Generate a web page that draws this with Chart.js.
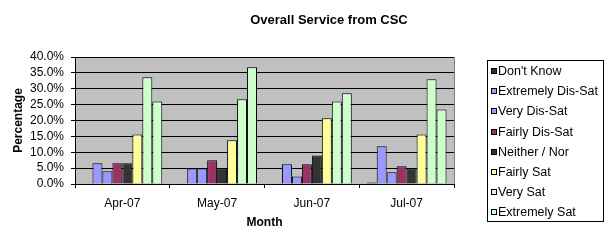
<!DOCTYPE html>
<html>
<head>
<meta charset="utf-8">
<script src="https://cdn.jsdelivr.net/npm/chart.js@4"></script>
<style>
  body { margin: 0; background: #fff; }
</style>
</head>
<body>
<canvas id="myChart" width="607" height="243"></canvas>
<script>
const months = ['Apr-07', 'May-07', 'Jun-07', 'Jul-07']
const seriesNames = ["Don't Know", 'Extremely Dis-Sat', 'Very Dis-Sat', 'Fairly Dis-Sat', 'Neither / Nor', 'Fairly Sat', 'Very Sat', 'Extremely Sat']
const dontKnow = [0, 0, 0, 0.5]
const extremelyDisSat = [6.5, 4.9, 6.2, 11.9]
const veryDisSat = [4.0, 4.9, 2.4, 3.7]
const fairlyDisSat = [6.5, 7.5, 6.2, 5.6]
const neitherNor = [6.5, 4.9, 9.0, 4.9]
const fairlySat = [15.6, 13.8, 20.7, 15.6]
const verySat = [33.6, 26.7, 26.0, 33.0]
const extremelySat = [26.0, 36.8, 28.6, 23.5]
const seriesColors = ['#333333', '#9999FF', '#9999FF', '#993366', '#333333', '#FFFF99', '#CCFFCC', '#CCFFCC']
const yTicks = [0, 5, 10, 15, 20, 25, 30, 35, 40]

const allSeries = [dontKnow, extremelyDisSat, veryDisSat, fairlyDisSat, neitherNor, fairlySat, verySat, extremelySat]
const font = 'Liberation Sans, Arial, sans-serif'

// gray plot area + custom title + boxed legend
const excelLook = {
    id: 'excelLook',
    beforeDraw(chart) {
        const {ctx, chartArea: a} = chart
        ctx.save()
        ctx.fillStyle = '#C0C0C0'
        ctx.fillRect(a.left, a.top, a.right - a.left, a.bottom - a.top)
        ctx.strokeStyle = '#808080'
        ctx.lineWidth = 1
        ctx.strokeRect(Math.round(a.left) + 0.5, Math.round(a.top) + 0.5, Math.round(a.right - a.left), Math.round(a.bottom - a.top))
        ctx.restore()
    },
    afterDraw(chart) {
        const {ctx, chartArea: a} = chart
        ctx.save()
        ctx.fillStyle = '#000'
        ctx.font = 'bold 13px ' + font
        ctx.textAlign = 'center'
        ctx.textBaseline = 'middle'
        ctx.fillText('Overall Service from CSC', 329, 20)

        // legend
        const lx = Math.round(a.right) + 33, ly = 60
        ctx.strokeStyle = '#000'
        ctx.lineWidth = 1
        ctx.strokeRect(lx + 0.5, ly + 0.5, 116, 161)
        ctx.font = '12.5px ' + font
        ctx.textAlign = 'left'
        chart.data.datasets.forEach((ds, i) => {
            const y = Math.round(ly + 11 + i * 20.2)
            ctx.fillStyle = ds.backgroundColor
            ctx.fillRect(lx + 4, y - 3, 6, 6)
            ctx.strokeRect(lx + 4.5, y - 2.5, 5, 5)
            ctx.fillStyle = '#000'
            ctx.fillText(ds.label, lx + 11, y + 1)
        })
        ctx.restore()
    }
}

const data = {
    labels: months,
    datasets: allSeries.map((values, i) => ({
        label: seriesNames[i],
        data: values,
        backgroundColor: seriesColors[i],
        borderColor: '#000',
        borderWidth: 1,
        categoryPercentage: 8 / 9.5,
        barPercentage: 1
    }))
}

let myChart = new Chart(document.getElementById('myChart').getContext('2d'), {
    type: 'bar',
    data: data,
    plugins: [excelLook],
    options: {
        responsive: false,
        animation: false,
        layout: {
            padding: { top: 57, right: 153, left: 0, bottom: 0 }
        },
        plugins: {
            legend: { display: false },
            title: { display: false },
            tooltip: { enabled: false }
        },
        scales: {
          x: {
            afterFit: s => { s.height = 59 },
            title: {
                display: true,
                text: 'Month',
                color: '#000',
                font: { family: font, size: 12, weight: 'bold' },
                padding: { top: 0, bottom: 13 }
            },
            grid: {
              color: '#000',
              drawOnChartArea: false,
              tickLength: 4,
              offset: true
            },
            border: { color: '#000' },
            ticks: {
                color: '#000',
                font: { family: font, size: 12 },
                padding: 8,
                maxRotation: 0
            }
          },
          y: {
            min: 0,
            max: 40,
            afterFit: s => { s.width = 75 },
            afterBuildTicks: s => { s.ticks = yTicks.map(v => ({ value: v })) },
            title: {
                display: true,
                text: 'Percentage',
                color: '#000',
                font: { family: font, size: 12, weight: 'bold' },
                padding: { top: 11, bottom: 0 }
            },
            grid: {
              color: '#000',
              tickLength: 4
            },
            border: { color: '#000' },
            ticks: {
                color: '#000',
                font: { family: font, size: 12 },
                padding: 7,
                autoSkip: false,
                callback: v => v.toFixed(1) + '%'
            }
          }
        }
      }
})
</script>
</body>
</html>
